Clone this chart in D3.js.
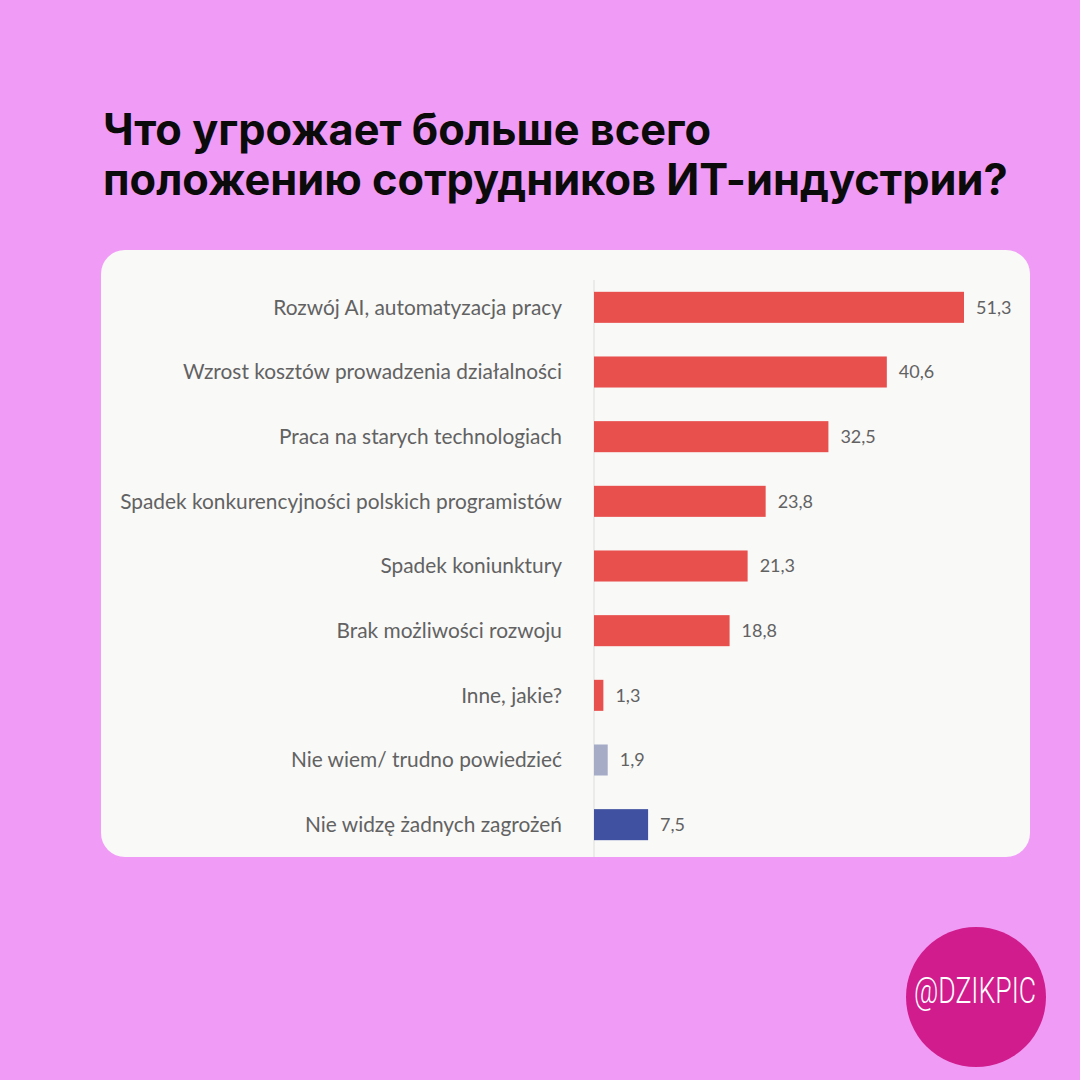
<!DOCTYPE html>
<html><head><meta charset="utf-8">
<script src="https://cdn.jsdelivr.net/npm/d3@7"></script>
<style>html,body{margin:0;padding:0;background:#f09bf6;}svg{display:block;}</style>
</head><body>
<script>
const titleLines = ["Что угрожает больше всего", "положению сотрудников ИТ-индустрии?"];
const categories = [
  "Rozwój AI, automatyzacja pracy",
  "Wzrost kosztów prowadzenia działalności",
  "Praca na starych technologiach",
  "Spadek konkurencyjności polskich programistów",
  "Spadek koniunktury",
  "Brak możliwości rozwoju",
  "Inne, jakie?",
  "Nie wiem/ trudno powiedzieć",
  "Nie widzę żadnych zagrożeń"
];
const values = [51.3, 40.6, 32.5, 23.8, 21.3, 18.8, 1.3, 1.9, 7.5];
const valueLabels = ["51,3","40,6","32,5","23,8","21,3","18,8","1,3","1,9","7,5"];
const groups = ["threat","threat","threat","threat","threat","threat","threat","unknown","none"];
const badgeText = "@DZIKPIC";

const W = 1080, H = 1080;
const svg = d3.select("body").append("svg").attr("width", W).attr("height", H);
svg.append("rect").attr("width", W).attr("height", H).attr("fill", "#f09bf6");

// title
const title = svg.append("g");
titleLines.forEach((t, i) => {
  title.append("text").attr("x", 103).attr("y", 145 + i * 50)
    .attr("font-family", "Inter, 'Open Sans', sans-serif").attr("font-weight", 700)
    .attr("font-size", 35).attr("fill", "#0b0b0b").text(t);
});
const l2 = title.selectAll("text").nodes()[1];
const w2 = l2.getComputedTextLength();
const fs = 35 * 905 / w2;
title.selectAll("text").attr("font-size", fs);

// card
svg.append("rect").attr("x", 101).attr("y", 250).attr("width", 929).attr("height", 607)
  .attr("rx", 24).attr("fill", "#f9f9f8");

const x = d3.scaleLinear().domain([0, 51.3]).range([594, 964]);
const y = d3.scaleBand().domain(categories).range([275, 857]).paddingInner(0.52).paddingOuter(0.26);
const color = d3.scaleOrdinal().domain(["threat","unknown","none"]).range(["#e8504d","#a7acc6","#3f51a0"]);

svg.append("line").attr("x1", x(0)).attr("x2", x(0)).attr("y1", 280).attr("y2", 857)
  .attr("stroke", "#e6e6e6").attr("stroke-width", 1.5);

const rows = svg.append("g").selectAll("g").data(categories).join("g");
rows.append("rect")
  .attr("x", x(0)).attr("y", d => y(d))
  .attr("width", (d, i) => x(values[i]) - x(0)).attr("height", y.bandwidth())
  .attr("fill", (d, i) => color(groups[i]));

const lab = rows.append("text")
  .attr("x", 562).attr("y", d => y(d) + y.bandwidth() / 2)
  .attr("dy", "0.35em").attr("text-anchor", "end")
  .attr("font-family", "Lato, 'Noto Sans', sans-serif").attr("font-size", 18)
  .attr("fill", "#626262").text(d => d);
const longest = lab.nodes()[3].getComputedTextLength();
lab.attr("font-size", 18 * 442 / longest);

rows.append("text")
  .attr("x", (d, i) => x(values[i]) + 12).attr("y", d => y(d) + y.bandwidth() / 2)
  .attr("dy", "0.35em")
  .attr("font-family", "Lato, 'Noto Sans', sans-serif").attr("font-size", 18)
  .attr("fill", "#626262").text((d, i) => valueLabels[i]);

// badge
svg.append("circle").attr("cx", 976).attr("cy", 997).attr("r", 70).attr("fill", "#d11c8d");
const badge = svg.append("text").attr("x", 0).attr("y", 0).attr("text-anchor", "middle")
  .attr("font-family", "Roboto, sans-serif").attr("font-weight", 300).attr("font-size", 37)
  .attr("fill", "#ffffff").text(badgeText);
const bw = badge.node().getComputedTextLength();
badge.attr("transform", `translate(975,1003) scale(${122 / bw},1)`);
</script>
</body></html>
